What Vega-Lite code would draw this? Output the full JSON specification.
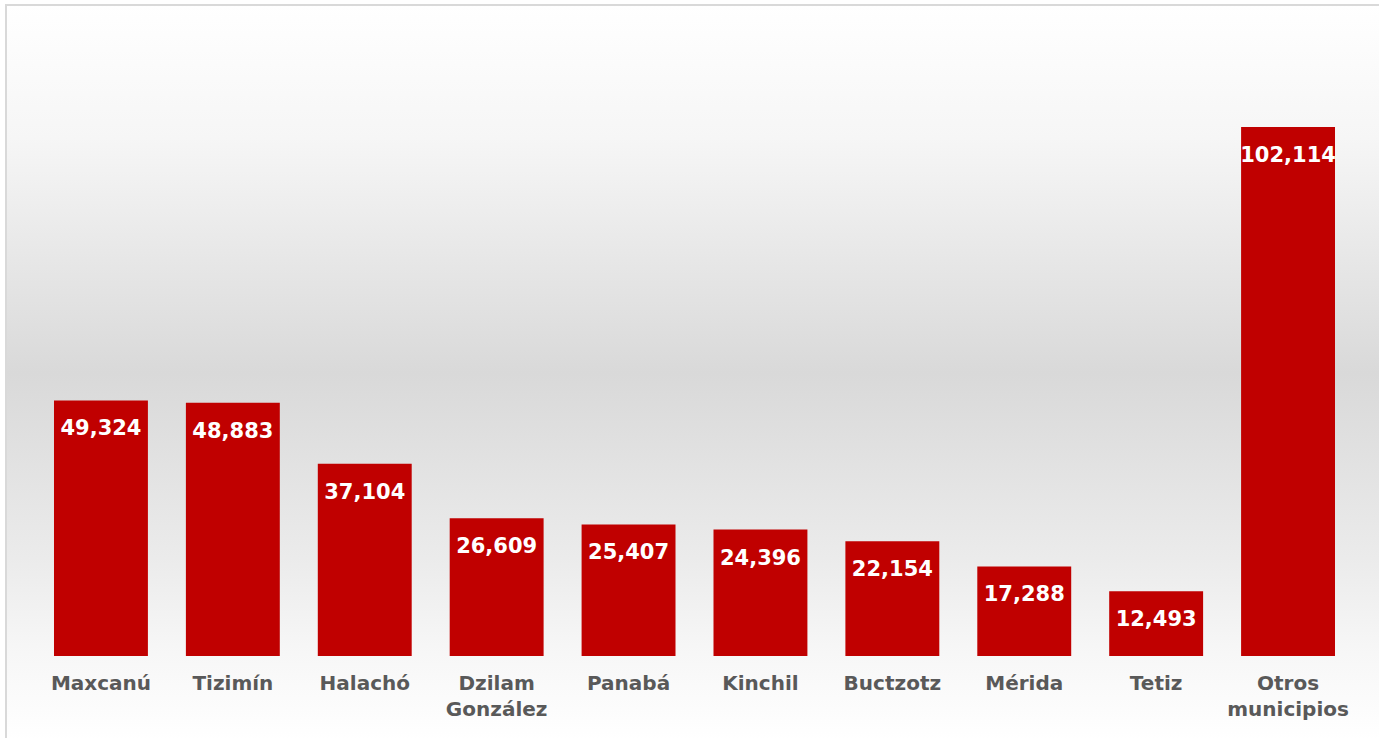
{
  "$schema": "https://vega.github.io/schema/vega-lite/v6.json",
  "width": 1377,
  "height": 737,
  "autosize": "none",
  "padding": {"left": 6, "top": 5, "right": 0, "bottom": 0},
  "background": "#ffffff",
  "view": {
    "stroke": "#d9d9d9",
    "strokeWidth": 2,
    "fill": {
      "gradient": "linear",
      "x1": 0, "y1": 0, "x2": 0, "y2": 1,
      "stops": [
        {"offset": 0, "color": "#ffffff"},
        {"offset": 0.18, "color": "#f6f6f6"},
        {"offset": 0.5, "color": "#d9d9d9"},
        {"offset": 0.75, "color": "#ebebeb"},
        {"offset": 0.88, "color": "#f7f7f7"},
        {"offset": 1, "color": "#ffffff"}
      ]
    }
  },
  "data": {
    "values": [
      {"municipio": "Maxcanú", "valor": 49324},
      {"municipio": "Tizimín", "valor": 48883},
      {"municipio": "Halachó", "valor": 37104},
      {"municipio": "Dzilam González", "valor": 26609},
      {"municipio": "Panabá", "valor": 25407},
      {"municipio": "Kinchil", "valor": 24396},
      {"municipio": "Buctzotz", "valor": 22154},
      {"municipio": "Mérida", "valor": 17288},
      {"municipio": "Tetiz", "valor": 12493},
      {"municipio": "Otros municipios", "valor": 102114}
    ]
  },
  "encoding": {
    "x": {
      "field": "municipio",
      "type": "nominal",
      "sort": null,
      "scale": {"range": [29, 1348], "paddingInner": 0.288, "paddingOuter": 0.144},
      "axis": {
        "title": null,
        "orient": "bottom",
        "offset": -86,
        "domain": false,
        "ticks": false,
        "labelAngle": 0,
        "labelFont": "DejaVu Sans",
        "labelFontWeight": "bold",
        "labelFontSize": 20,
        "labelColor": "#595959",
        "labelPadding": 17,
        "labelLineHeight": 26,
        "labelExpr": "split(datum.value, ' ')"
      }
    },
    "y": {
      "field": "valor",
      "type": "quantitative",
      "scale": {"domain": [-16601, 125663], "nice": false, "zero": false},
      "axis": null
    }
  },
  "layer": [
    {"mark": {"type": "bar", "color": "#c00000"}},
    {
      "mark": {
        "type": "text",
        "color": "#ffffff",
        "font": "DejaVu Sans",
        "fontWeight": "bold",
        "fontSize": 21,
        "baseline": "middle",
        "align": "center",
        "dy": 29
      },
      "encoding": {"text": {"field": "valor", "type": "quantitative", "format": ",d"}}
    }
  ]
}
